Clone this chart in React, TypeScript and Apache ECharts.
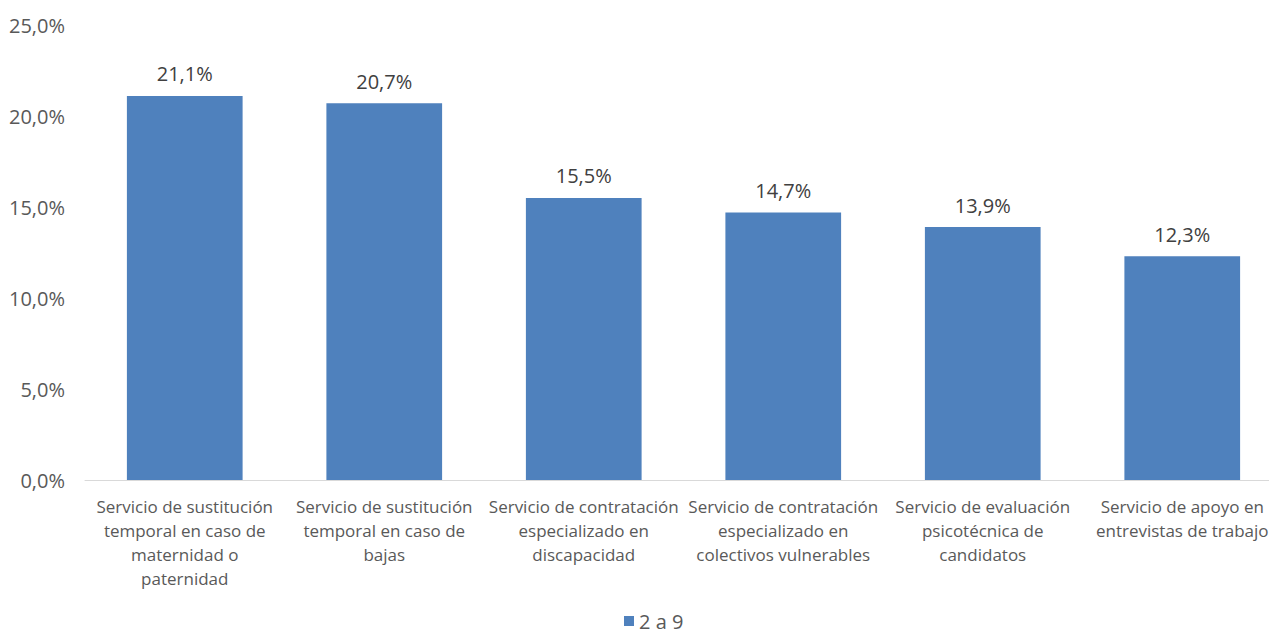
import React, { useEffect, useRef } from "react";
import * as echarts from "echarts";

const categories = [
  "Servicio de sustitución\ntemporal en caso de\nmaternidad o\npaternidad",
  "Servicio de sustitución\ntemporal en caso de\nbajas",
  "Servicio de contratación\nespecializado en\ndiscapacidad",
  "Servicio de contratación\nespecializado en\ncolectivos vulnerables",
  "Servicio de evaluación\npsicotécnica de\ncandidatos",
  "Servicio de apoyo en\nentrevistas de trabajo",
];
const seriesName = "2 a 9";
const values = [21.1, 20.7, 15.5, 14.7, 13.9, 12.3];

const FONT = "'Open Sans', sans-serif";
const fmt = (v: number) => v.toFixed(1).replace(".", ",") + "%";

export default function App() {
  const ref = useRef<HTMLDivElement>(null);
  useEffect(() => {
    const chart = echarts.init(ref.current!, undefined, { renderer: "svg" });
    chart.setOption({
      animation: false,
      textStyle: { fontFamily: FONT },
      grid: { left: 85, top: 25, width: 1197, height: 455, containLabel: false },
      legend: {
        top: 610,
        left: 624,
        padding: 0,
        itemWidth: 10,
        itemHeight: 10,
        icon: "rect",
        itemGap: 5,
        textStyle: { fontSize: 20, lineHeight: 22, color: "#595959", fontFamily: FONT, padding: [0, 0, 0, 0] },
        data: [seriesName],
      },
      xAxis: {
        type: "category",
        data: categories,
        axisLine: { lineStyle: { color: "#D9D9D9", width: 1 } },
        axisTick: { show: false },
        axisLabel: {
          interval: 0,
          color: "#595959",
          fontSize: 17,
          lineHeight: 24,
          margin: 14,
          fontFamily: FONT,
        },
      },
      yAxis: {
        type: "value",
        min: 0,
        max: 25,
        interval: 5,
        axisLine: { show: false },
        axisTick: { show: false },
        splitLine: { show: false },
        axisLabel: {
          color: "#595959",
          fontSize: 20,
          margin: 20,
          fontFamily: FONT,
          formatter: (v: number) => fmt(v),
        },
      },
      series: [
        {
          name: seriesName,
          type: "bar",
          data: values,
          barWidth: "58%",
          itemStyle: { color: "#4F81BD" },
          label: {
            show: true,
            position: "top",
            distance: 12,
            color: "#404040",
            fontSize: 20,
            fontFamily: FONT,
            formatter: (p: any) => fmt(p.value),
          },
        },
      ],
    });
    return () => chart.dispose();
  }, []);
  return (
    <div style={{ position: "absolute", left: 0, top: 0, width: 1269, height: 634, overflow: "hidden", background: "#fff" }}>
      <div ref={ref} style={{ width: 1300, height: 634 }} />
    </div>
  );
}
